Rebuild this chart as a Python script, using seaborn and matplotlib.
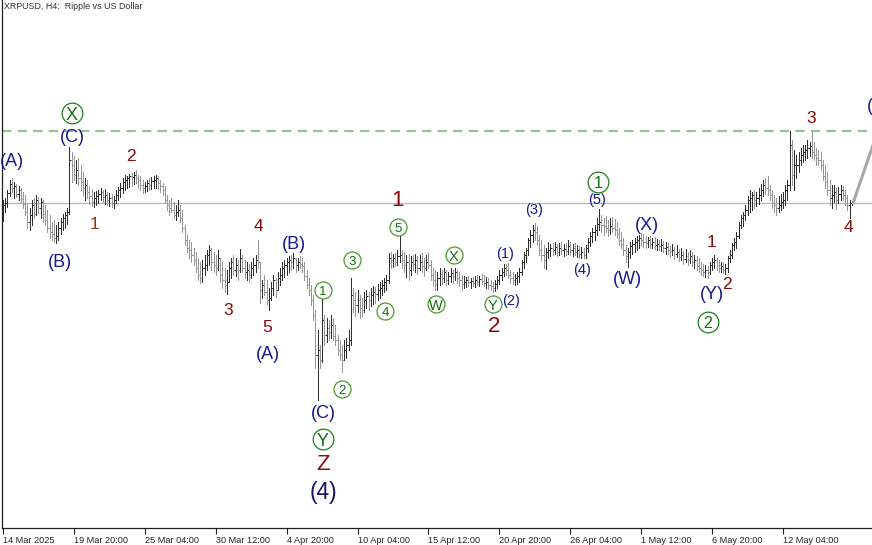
import numpy as np
import matplotlib
matplotlib.use("Agg")
import matplotlib.pyplot as plt
import seaborn as sns

# ---------------- data ----------------
title = "XRPUSD, H4:  Ripple vs US Dollar"
tick_labels = ["14 Mar 2025", "19 Mar 20:00", "25 Mar 04:00", "30 Mar 12:00",
               "4 Apr 20:00", "10 Apr 04:00", "15 Apr 12:00", "20 Apr 20:00",
               "26 Apr 04:00", "1 May 12:00", "6 May 20:00", "12 May 04:00"]
bars_per_label = 32

first_open = 2.300
high = [
 2.370,2.378,2.410,2.450,2.458,2.442,2.434,2.426,2.418,2.402,
 2.390,2.358,2.338,2.370,2.378,2.390,2.382,2.378,2.370,2.350,
 2.330,2.310,2.282,2.290,2.270,2.282,2.298,2.314,2.322,2.338,
 2.582,2.562,2.546,2.530,2.538,2.510,2.482,2.458,2.450,2.426,
 2.414,2.402,2.406,2.410,2.418,2.410,2.414,2.402,2.398,2.394,
 2.386,2.410,2.422,2.438,2.458,2.470,2.466,2.474,2.478,2.482,
 2.490,2.470,2.466,2.450,2.442,2.450,2.458,2.462,2.466,2.470,
 2.466,2.450,2.438,2.426,2.390,2.370,2.378,2.362,2.350,2.370,
 2.350,2.330,2.270,2.230,2.210,2.202,2.178,2.162,2.138,2.122,
 2.130,2.150,2.170,2.190,2.178,2.162,2.150,2.170,2.138,2.122,
 2.098,2.090,2.122,2.138,2.150,2.138,2.130,2.174,2.150,2.130,
 2.122,2.114,2.122,2.138,2.150,2.210,2.122,2.050,2.070,2.050,
 2.018,2.042,2.070,2.058,2.082,2.098,2.122,2.130,2.138,2.146,
 2.150,2.158,2.138,2.138,2.146,2.138,2.122,2.090,2.058,2.030,
 1.990,1.930,1.850,1.790,2.010,1.910,1.898,1.890,1.910,1.898,
 1.870,1.830,1.810,1.790,1.810,1.818,1.850,2.058,2.018,2.002,
 2.010,1.990,1.978,2.002,2.010,2.002,2.018,2.026,2.022,2.034,
 2.042,2.050,2.058,2.070,2.158,2.162,2.154,2.158,2.170,2.226,
 2.170,2.162,2.150,2.154,2.146,2.150,2.154,2.146,2.150,2.158,
 2.138,2.150,2.158,2.130,2.098,2.090,2.082,2.098,2.090,2.098,
 2.090,2.082,2.098,2.090,2.098,2.090,2.082,2.070,2.066,2.062,
 2.066,2.058,2.062,2.066,2.070,2.066,2.074,2.070,2.062,2.058,
 2.050,2.042,2.050,2.066,2.090,2.098,2.114,2.114,2.118,2.090,
 2.082,2.074,2.082,2.098,2.130,2.162,2.178,2.218,2.250,2.270,
 2.278,2.266,2.230,2.210,2.190,2.178,2.202,2.194,2.198,2.202,
 2.194,2.198,2.202,2.194,2.198,2.210,2.202,2.194,2.198,2.190,
 2.186,2.182,2.178,2.190,2.218,2.242,2.258,2.270,2.298,2.334,
 2.310,2.298,2.306,2.290,2.298,2.302,2.294,2.282,2.258,2.242,
 2.218,2.190,2.178,2.202,2.210,2.218,2.226,2.230,2.238,2.234,
 2.226,2.222,2.226,2.218,2.222,2.214,2.210,2.214,2.206,2.202,
 2.198,2.186,2.194,2.182,2.190,2.174,2.178,2.166,2.174,2.162,
 2.170,2.162,2.150,2.146,2.138,2.122,2.114,2.110,2.106,2.122,
 2.138,2.150,2.138,2.130,2.122,2.122,2.114,2.146,2.170,2.198,
 2.218,2.242,2.282,2.310,2.322,2.350,2.386,2.410,2.402,2.410,
 2.402,2.418,2.434,2.450,2.458,2.466,2.430,2.410,2.390,2.378,
 2.386,2.394,2.402,2.430,2.450,2.646,2.610,2.570,2.550,2.562,
 2.578,2.590,2.590,2.610,2.602,2.646,2.602,2.578,2.570,2.562,
 2.530,2.510,2.482,2.450,2.430,2.430,2.418,2.422,2.430,2.426,
 2.410,2.390,2.370,2.366]
low = [
 2.286,2.322,2.342,2.386,2.402,2.378,2.382,2.370,2.358,2.338,
 2.310,2.258,2.250,2.270,2.298,2.310,2.318,2.298,2.282,2.270,
 2.242,2.218,2.210,2.202,2.198,2.210,2.234,2.250,2.258,2.274,
 2.314,2.442,2.450,2.438,2.430,2.410,2.390,2.370,2.378,2.354,
 2.346,2.342,2.350,2.358,2.370,2.362,2.354,2.350,2.346,2.342,
 2.338,2.358,2.370,2.382,2.398,2.410,2.418,2.422,2.426,2.434,
 2.438,2.418,2.410,2.398,2.402,2.406,2.410,2.414,2.418,2.418,
 2.414,2.402,2.390,2.358,2.330,2.310,2.322,2.298,2.290,2.306,
 2.282,2.242,2.190,2.162,2.138,2.122,2.110,2.082,2.050,2.038,
 2.042,2.070,2.090,2.110,2.090,2.082,2.070,2.090,2.042,2.018,
 2.002,1.994,2.042,2.058,2.070,2.066,2.050,2.082,2.082,2.058,
 2.050,2.042,2.058,2.070,2.082,2.098,1.958,1.978,1.990,1.950,
 1.930,1.970,1.990,1.982,2.010,2.030,2.050,2.062,2.070,2.082,
 2.090,2.098,2.082,2.090,2.098,2.082,2.050,2.018,1.990,1.950,
 1.890,1.698,1.570,1.698,1.722,1.790,1.802,1.810,1.818,1.810,
 1.790,1.750,1.730,1.682,1.730,1.738,1.770,1.790,1.922,1.906,
 1.922,1.898,1.906,1.922,1.938,1.930,1.946,1.954,1.958,1.970,
 1.978,1.990,2.002,2.010,2.038,2.098,2.102,2.106,2.110,2.122,
 2.098,2.082,2.062,2.050,2.070,2.090,2.082,2.074,2.090,2.082,
 2.066,2.090,2.098,2.050,2.026,2.010,2.010,2.030,2.034,2.042,
 2.030,2.034,2.042,2.038,2.050,2.038,2.026,2.010,2.018,2.022,
 2.026,2.018,2.026,2.022,2.030,2.026,2.034,2.026,2.018,2.014,
 2.010,2.002,2.006,2.018,2.034,2.050,2.066,2.070,2.058,2.038,
 2.034,2.030,2.034,2.042,2.070,2.098,2.122,2.150,2.182,2.202,
 2.210,2.190,2.150,2.130,2.098,2.094,2.138,2.146,2.150,2.154,
 2.146,2.150,2.154,2.146,2.150,2.154,2.150,2.146,2.150,2.142,
 2.138,2.138,2.138,2.138,2.162,2.186,2.202,2.210,2.230,2.250,
 2.242,2.230,2.242,2.226,2.234,2.242,2.230,2.218,2.190,2.178,
 2.150,2.122,2.102,2.138,2.154,2.162,2.170,2.178,2.186,2.182,
 2.178,2.182,2.178,2.178,2.174,2.170,2.170,2.166,2.162,2.154,
 2.154,2.142,2.150,2.134,2.142,2.126,2.130,2.114,2.122,2.110,
 2.118,2.106,2.098,2.090,2.082,2.070,2.066,2.062,2.058,2.074,
 2.090,2.098,2.090,2.082,2.082,2.078,2.074,2.082,2.122,2.138,
 2.170,2.178,2.218,2.258,2.266,2.290,2.310,2.322,2.330,2.338,
 2.346,2.354,2.370,2.386,2.394,2.390,2.370,2.338,2.322,2.310,
 2.322,2.330,2.338,2.350,2.370,2.410,2.430,2.410,2.458,2.482,
 2.510,2.522,2.530,2.538,2.546,2.538,2.530,2.510,2.510,2.490,
 2.450,2.418,2.390,2.350,2.338,2.362,2.334,2.358,2.370,2.370,
 2.350,2.330,2.298,2.350]
close = [
 2.350,2.358,2.398,2.434,2.418,2.426,2.394,2.410,2.374,2.354,
 2.322,2.282,2.310,2.350,2.314,2.370,2.338,2.362,2.314,2.290,
 2.258,2.242,2.234,2.218,2.226,2.258,2.282,2.298,2.310,2.322,
 2.530,2.510,2.470,2.490,2.458,2.442,2.418,2.430,2.402,2.386,
 2.362,2.378,2.386,2.394,2.402,2.382,2.390,2.370,2.378,2.358,
 2.370,2.390,2.410,2.418,2.442,2.450,2.458,2.466,2.462,2.470,
 2.458,2.450,2.430,2.418,2.426,2.438,2.430,2.446,2.450,2.458,
 2.438,2.426,2.410,2.370,2.350,2.338,2.330,2.310,2.322,2.330,
 2.298,2.258,2.210,2.178,2.170,2.150,2.130,2.098,2.070,2.058,
 2.098,2.110,2.150,2.170,2.122,2.110,2.098,2.138,2.070,2.050,
 2.030,2.042,2.098,2.122,2.090,2.110,2.090,2.138,2.098,2.082,
 2.090,2.070,2.098,2.110,2.130,2.122,2.010,2.030,2.002,1.970,
 1.978,2.018,2.050,2.010,2.058,2.070,2.098,2.110,2.122,2.130,
 2.122,2.138,2.110,2.122,2.114,2.106,2.066,2.030,2.010,1.970,
 1.910,1.750,1.770,1.730,1.890,1.830,1.858,1.842,1.870,1.826,
 1.810,1.770,1.750,1.730,1.770,1.790,1.810,1.990,1.970,1.950,
 1.970,1.938,1.930,1.970,1.986,1.970,1.990,2.002,1.994,2.010,
 2.018,2.030,2.042,2.050,2.138,2.130,2.138,2.122,2.146,2.150,
 2.130,2.110,2.122,2.090,2.122,2.114,2.130,2.098,2.122,2.106,
 2.098,2.122,2.110,2.070,2.050,2.034,2.058,2.074,2.058,2.082,
 2.050,2.066,2.078,2.066,2.082,2.058,2.050,2.034,2.042,2.050,
 2.042,2.046,2.038,2.050,2.042,2.054,2.046,2.038,2.042,2.030,
 2.026,2.018,2.034,2.050,2.070,2.082,2.098,2.090,2.070,2.058,
 2.050,2.058,2.066,2.082,2.122,2.150,2.170,2.210,2.230,2.250,
 2.242,2.210,2.170,2.150,2.130,2.162,2.170,2.178,2.170,2.182,
 2.162,2.178,2.170,2.174,2.166,2.186,2.170,2.178,2.162,2.170,
 2.154,2.162,2.150,2.178,2.202,2.226,2.242,2.250,2.274,2.282,
 2.270,2.266,2.258,2.250,2.266,2.258,2.250,2.234,2.210,2.194,
 2.170,2.146,2.162,2.186,2.194,2.202,2.210,2.218,2.210,2.202,
 2.198,2.210,2.194,2.202,2.190,2.194,2.186,2.190,2.178,2.182,
 2.170,2.166,2.170,2.154,2.162,2.142,2.150,2.134,2.146,2.130,
 2.146,2.122,2.130,2.106,2.098,2.090,2.082,2.090,2.082,2.110,
 2.122,2.130,2.110,2.098,2.106,2.090,2.098,2.138,2.150,2.190,
 2.202,2.226,2.270,2.298,2.310,2.330,2.370,2.378,2.390,2.370,
 2.378,2.390,2.410,2.430,2.418,2.410,2.390,2.358,2.350,2.338,
 2.350,2.362,2.370,2.410,2.430,2.590,2.470,2.510,2.510,2.530,
 2.550,2.562,2.570,2.578,2.586,2.562,2.550,2.538,2.530,2.510,
 2.466,2.442,2.410,2.378,2.390,2.402,2.370,2.394,2.410,2.390,
 2.378,2.350,2.358,2.358]

current_price = 2.358
resistance_level = 2.645
projection_x = [383.6, 402.0]
projection_price = [2.358, 2.832]

# wave labels: text, bar index, price, style
wave_labels = [
    ("(A)", 4.1, 2.526, "navy"), ("(B)", 25.7, 2.122, "navy"),
    ("(C)", 31.1, 2.622, "navy"), ("X", 31.1, 2.718, "circ_l"),
    ("1", 41.5, 2.274, "brown"), ("2", 57.8, 2.546, "red"),
    ("3", 101.5, 1.930, "red"), ("4", 115.1, 2.266, "red"),
    ("5", 119.1, 1.862, "red"), ("(A)", 119.6, 1.754, "navy"),
    ("(B)", 131.3, 2.194, "navy"), ("1", 144.4, 2.010, "circ"),
    ("(C)", 144.4, 1.518, "navy"), ("Y", 144.4, 1.414, "circ_l"),
    ("Z", 144.4, 1.314, "red_l"), ("(4)", 144.4, 1.202, "navy_xl"),
    ("2", 153.0, 1.614, "circ"), ("3", 157.5, 2.130, "circ"),
    ("4", 172.4, 1.926, "circ"), ("5", 178.2, 2.262, "circ"),
    ("1", 178.2, 2.366, "red_l"), ("W", 195.4, 1.954, "circ"),
    ("X", 203.5, 2.150, "circ"), ("Y", 221.1, 1.954, "circ"),
    ("2", 221.6, 1.866, "red_l"), ("(1)", 226.5, 2.154, "navy_s"),
    ("(2)", 229.2, 1.966, "navy_s"), ("(3)", 239.6, 2.330, "navy_s"),
    ("(4)", 261.3, 2.090, "navy_s"), ("(5)", 268.0, 2.370, "navy_s"),
    ("1", 268.5, 2.442, "circ_l"), ("(W)", 282.0, 2.054, "navy"),
    ("(X)", 290.6, 2.270, "navy"), ("1", 319.5, 2.202, "red"),
    ("(Y)", 320.0, 1.994, "navy"), ("2", 326.7, 2.034, "red"),
    ("2", 318.1, 1.882, "circ_l"), ("3", 364.6, 2.698, "red"),
    ("4", 381.3, 2.262, "red"),
]
edge_label = ("(5)", 390.0, 2.746)

# ---------------- styling ----------------
sns.set_theme(style="white")
plt.rcParams["font.family"] = ["Liberation Sans", "DejaVu Sans"]

NAVY = "#18188a"
RED = "#8b0a0a"
GREEN_TXT = "#0f700f"
UP_COL = "#2e2e2e"
DOWN_COL = "#969696"

text_styles = {
    "navy": dict(color=NAVY, fontsize=13),
    "navy_s": dict(color=NAVY, fontsize=10.5),
    "navy_xl": dict(color="#121266", fontsize=16.5),
    "red": dict(color=RED, fontsize=12.5),
    "brown": dict(color="#983612", fontsize=12.5),
    "red_l": dict(color=RED, fontsize=16),
}
circle_styles = {
    "circ": dict(s=150, ec="#4c9a2a", digit=9.5, letter=10.5),
    "circ_l": dict(s=222, ec="#1f7f1f", digit=11.5, letter=13),
}

fig = plt.figure(figsize=(8.72, 5.45), dpi=100)
fig.patch.set_facecolor("white")
ax = fig.add_axes([2 / 872, 17 / 545, 870 / 872, 528 / 545])
ax.set_facecolor("white")

high_a = np.array(high)
low_a = np.array(low)
close_a = np.array(close)
n = len(close_a)
idx = np.arange(n)
open_a = np.clip(np.r_[first_open, close_a[:-1]], low_a, high_a)
colors = np.where(close_a >= open_a, UP_COL, DOWN_COL)

# reference lines
ax.axhline(current_price, color="#b8b8b8", lw=0.9, zorder=1)
ax.axhline(resistance_level, color="#93c493", lw=1.6, ls=(0, (4.2, 2.8)), zorder=1)

# OHLC bars (1 px lines)
BAR_LW = 0.72
ax.vlines(idx, low_a, high_a, colors=colors, lw=BAR_LW, zorder=2, antialiased=False)
ax.hlines(open_a, idx - 0.42, idx, colors=colors, lw=BAR_LW, zorder=2, antialiased=False)
ax.hlines(close_a, idx, idx + 0.42, colors=colors, lw=BAR_LW, zorder=2, antialiased=False)

# projection
sns.lineplot(x=projection_x, y=projection_price, ax=ax, color="#a8a8a8", lw=2.2,
             sort=False, zorder=2)

# labels
for txt, xi, pr, st in wave_labels:
    if st in circle_styles:
        cs = circle_styles[st]
        ax.scatter([xi], [pr], s=cs["s"], facecolors="white", edgecolors=cs["ec"],
                   linewidths=0.9, zorder=4)
        fs = cs["digit"] if txt.isdigit() else cs["letter"]
        ax.text(xi, pr, txt, ha="center", va="center_baseline", fontsize=fs,
                color=GREEN_TXT, zorder=5)
    else:
        ax.text(xi, pr, txt, ha="center", va="center", zorder=5, **text_styles[st])
ax.text(edge_label[1], edge_label[2], edge_label[0], ha="left", va="center",
        color=NAVY, fontsize=13, zorder=5, clip_on=False)

# axes
ax.set_xlim(-0.451, 392.15)
ax.set_ylim(1.058, 3.17)
for side in ["top", "right"]:
    ax.spines[side].set_visible(False)
for side in ["left", "bottom"]:
    ax.spines[side].set_color("#202020")
    ax.spines[side].set_linewidth(0.9)
ax.set_yticks([])
ax.set_xticks(np.arange(len(tick_labels)) * bars_per_label)
ax.set_xticklabels(tick_labels, ha="left", fontsize=6.6, color="#222222")
ax.tick_params(axis="x", length=4, width=0.8, direction="out", pad=2,
               bottom=True, color="#202020")
ax.set_xlabel("")
ax.set_ylabel("")
ax.grid(False)

fig.text(4 / 872, 1 - 2 / 545, title, ha="left", va="top", fontsize=6.4,
         color="#303030")

fig.savefig("out.png", dpi=100, facecolor="white")
